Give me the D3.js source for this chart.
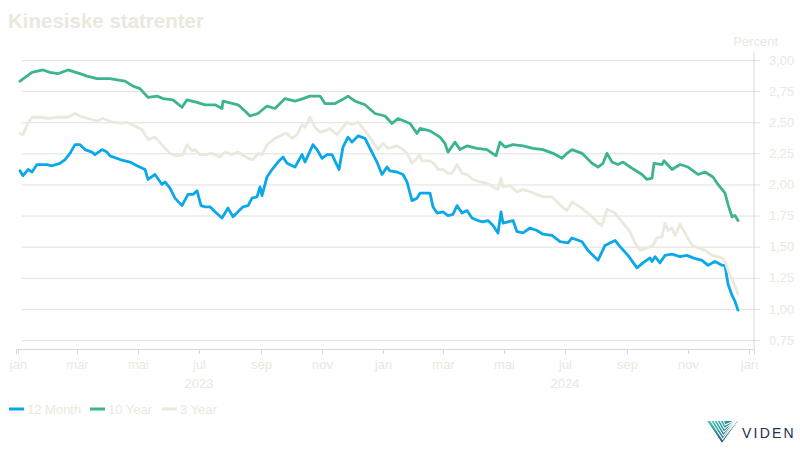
<!DOCTYPE html>
<html>
<head>
<meta charset="utf-8">
<script src="https://cdn.jsdelivr.net/npm/d3@7"></script>
<style>
  body { margin: 0; background: #fff; }
  text { font-family: "Liberation Sans", Arial, sans-serif; }
</style>
</head>
<body>
<div id="main_div"></div>
<script>
var WIDTH = 800;
var HEIGHT = 450;
var TEXT_COLOR = "#ebe8dd";
var GRID_COLOR = "#e0e0e0";

// Series data
var month12 = [
  ["2023-01-03",2.11],["2023-01-06",2.07],["2023-01-11",2.12],["2023-01-15",2.10],["2023-01-20",2.16],
  ["2023-01-30",2.16],["2023-02-04",2.15],["2023-02-12",2.17],["2023-02-17",2.20],["2023-02-22",2.25],
  ["2023-02-27",2.32],["2023-03-04",2.32],["2023-03-09",2.28],["2023-03-16",2.26],["2023-03-19",2.24],
  ["2023-03-26",2.28],["2023-03-31",2.26],["2023-04-03",2.23],["2023-04-13",2.20],["2023-04-23",2.18],
  ["2023-04-30",2.15],["2023-05-08",2.12],["2023-05-11",2.04],["2023-05-18",2.08],["2023-05-25",2.00],
  ["2023-05-28",2.02],["2023-06-02",1.97],["2023-06-07",1.89],["2023-06-14",1.83],["2023-06-20",1.92],
  ["2023-06-25",1.92],["2023-06-29",1.95],["2023-07-03",1.83],["2023-07-07",1.82],["2023-07-12",1.82],
  ["2023-07-17",1.78],["2023-07-24",1.73],["2023-07-30",1.81],["2023-08-04",1.74],["2023-08-09",1.78],
  ["2023-08-14",1.82],["2023-08-19",1.83],["2023-08-23",1.89],["2023-08-28",1.90],["2023-08-31",1.98],
  ["2023-09-02",1.91],["2023-09-07",2.06],["2023-09-12",2.12],["2023-09-18",2.18],["2023-09-23",2.22],
  ["2023-09-27",2.17],["2023-10-05",2.14],["2023-10-12",2.24],["2023-10-15",2.18],["2023-10-23",2.32],
  ["2023-10-27",2.28],["2023-11-01",2.21],["2023-11-06",2.24],["2023-11-11",2.24],["2023-11-18",2.12],
  ["2023-11-22",2.30],["2023-11-27",2.38],["2023-12-01",2.34],["2023-12-07",2.39],["2023-12-14",2.37],
  ["2023-12-19",2.29],["2023-12-26",2.18],["2023-12-31",2.08],["2024-01-05",2.14],["2024-01-08",2.11],
  ["2024-01-15",2.10],["2024-01-21",2.08],["2024-01-25",2.02],["2024-01-30",1.87],["2024-02-04",1.89],
  ["2024-02-07",1.93],["2024-02-17",1.93],["2024-02-20",1.82],["2024-02-24",1.77],["2024-03-01",1.78],
  ["2024-03-06",1.75],["2024-03-11",1.76],["2024-03-15",1.83],["2024-03-20",1.77],["2024-03-25",1.79],
  ["2024-03-30",1.73],["2024-04-05",1.71],["2024-04-10",1.70],["2024-04-15",1.71],["2024-04-20",1.67],
  ["2024-04-25",1.61],["2024-04-28",1.78],["2024-04-30",1.69],["2024-05-05",1.70],["2024-05-10",1.71],
  ["2024-05-14",1.62],["2024-05-20",1.61],["2024-05-27",1.65],["2024-06-03",1.63],["2024-06-09",1.60],
  ["2024-06-18",1.59],["2024-06-26",1.54],["2024-07-04",1.53],["2024-07-08",1.57],["2024-07-18",1.54],
  ["2024-07-24",1.47],["2024-08-03",1.39],["2024-08-10",1.51],["2024-08-20",1.55],["2024-08-25",1.50],
  ["2024-09-02",1.43],["2024-09-11",1.33],["2024-09-17",1.37],["2024-09-24",1.41],["2024-09-26",1.38],
  ["2024-09-29",1.42],["2024-10-04",1.37],["2024-10-09",1.43],["2024-10-16",1.44],["2024-10-24",1.42],
  ["2024-10-31",1.43],["2024-11-06",1.41],["2024-11-15",1.39],["2024-11-21",1.35],["2024-11-28",1.38],
  ["2024-12-05",1.35],["2024-12-08",1.35],["2024-12-11",1.20],["2024-12-15",1.11],["2024-12-18",1.06],
  ["2024-12-21",0.99]
];

var year10 = [
  ["2023-01-03",2.83],["2023-01-15",2.90],["2023-01-26",2.92],["2023-02-02",2.90],["2023-02-10",2.89],
  ["2023-02-20",2.92],["2023-03-04",2.89],["2023-03-11",2.87],["2023-03-21",2.85],["2023-04-03",2.85],
  ["2023-04-10",2.84],["2023-04-18",2.83],["2023-04-26",2.79],["2023-05-03",2.77],["2023-05-11",2.70],
  ["2023-05-20",2.71],["2023-05-26",2.69],["2023-06-05",2.68],["2023-06-14",2.62],["2023-06-19",2.68],
  ["2023-06-29",2.66],["2023-07-07",2.64],["2023-07-17",2.64],["2023-07-24",2.61],["2023-07-25",2.67],
  ["2023-08-09",2.64],["2023-08-16",2.59],["2023-08-21",2.55],["2023-08-29",2.57],["2023-09-07",2.63],
  ["2023-09-15",2.61],["2023-09-25",2.69],["2023-10-05",2.67],["2023-10-13",2.69],["2023-10-20",2.71],
  ["2023-10-30",2.71],["2023-11-04",2.65],["2023-11-14",2.65],["2023-11-21",2.68],["2023-11-27",2.71],
  ["2023-12-04",2.67],["2023-12-14",2.64],["2023-12-24",2.57],["2024-01-03",2.55],["2024-01-10",2.49],
  ["2024-01-16",2.53],["2024-01-28",2.49],["2024-02-04",2.41],["2024-02-07",2.45],["2024-02-17",2.43],
  ["2024-02-27",2.38],["2024-03-03",2.33],["2024-03-06",2.26],["2024-03-13",2.34],["2024-03-18",2.28],
  ["2024-03-25",2.31],["2024-04-04",2.29],["2024-04-14",2.28],["2024-04-23",2.23],["2024-04-27",2.34],
  ["2024-05-02",2.30],["2024-05-10",2.32],["2024-05-20",2.31],["2024-05-30",2.29],["2024-06-09",2.28],
  ["2024-06-19",2.25],["2024-06-28",2.21],["2024-07-03",2.25],["2024-07-08",2.28],["2024-07-18",2.25],
  ["2024-07-28",2.17],["2024-08-03",2.14],["2024-08-08",2.17],["2024-08-12",2.25],["2024-08-17",2.18],
  ["2024-08-23",2.16],["2024-08-28",2.18],["2024-09-06",2.13],["2024-09-16",2.08],["2024-09-21",2.04],
  ["2024-09-26",2.05],["2024-09-28",2.17],["2024-10-06",2.16],["2024-10-08",2.19],["2024-10-16",2.12],
  ["2024-10-24",2.16],["2024-11-01",2.14],["2024-11-11",2.08],["2024-11-18",2.10],["2024-11-26",2.06],
  ["2024-12-01",2.00],["2024-12-08",1.93],["2024-12-11",1.84],["2024-12-15",1.74],["2024-12-18",1.75],
  ["2024-12-21",1.71]
];

var year3 = [
  ["2023-01-03",2.41],["2023-01-06",2.40],["2023-01-10",2.48],["2023-01-15",2.54],["2023-01-23",2.54],
  ["2023-02-02",2.53],["2023-02-09",2.54],["2023-02-20",2.54],["2023-02-27",2.57],["2023-03-04",2.55],
  ["2023-03-12",2.53],["2023-03-21",2.51],["2023-03-27",2.53],["2023-04-06",2.50],["2023-04-15",2.49],
  ["2023-04-20",2.50],["2023-04-28",2.47],["2023-05-05",2.44],["2023-05-11",2.36],["2023-05-18",2.38],
  ["2023-05-26",2.31],["2023-06-02",2.25],["2023-06-09",2.23],["2023-06-15",2.24],["2023-06-19",2.32],
  ["2023-06-24",2.27],["2023-06-27",2.28],["2023-07-02",2.24],["2023-07-07",2.24],["2023-07-14",2.25],
  ["2023-07-22",2.22],["2023-07-27",2.26],["2023-08-03",2.24],["2023-08-09",2.26],["2023-08-19",2.21],
  ["2023-08-24",2.20],["2023-08-29",2.25],["2023-09-02",2.24],["2023-09-07",2.32],["2023-09-15",2.37],
  ["2023-09-22",2.40],["2023-09-27",2.41],["2023-10-02",2.37],["2023-10-07",2.40],["2023-10-12",2.48],
  ["2023-10-15",2.46],["2023-10-20",2.54],["2023-10-25",2.46],["2023-10-30",2.42],["2023-11-04",2.43],
  ["2023-11-09",2.45],["2023-11-16",2.40],["2023-11-21",2.45],["2023-11-26",2.50],["2023-12-01",2.48],
  ["2023-12-07",2.50],["2023-12-12",2.45],["2023-12-17",2.40],["2023-12-22",2.34],["2023-12-27",2.28],
  ["2024-01-01",2.33],["2024-01-06",2.29],["2024-01-15",2.31],["2024-01-21",2.28],["2024-01-26",2.24],
  ["2024-01-30",2.17],["2024-02-04",2.21],["2024-02-06",2.24],["2024-02-09",2.19],["2024-02-17",2.19],
  ["2024-02-22",2.16],["2024-02-25",2.12],["2024-03-01",2.12],["2024-03-06",2.09],["2024-03-10",2.09],
  ["2024-03-15",2.16],["2024-03-20",2.09],["2024-03-25",2.08],["2024-03-31",2.04],["2024-04-07",2.02],
  ["2024-04-14",2.01],["2024-04-20",1.98],["2024-04-25",1.96],["2024-04-28",2.05],["2024-04-30",1.98],
  ["2024-05-07",1.99],["2024-05-14",1.94],["2024-05-20",1.96],["2024-05-27",1.94],["2024-06-03",1.92],
  ["2024-06-09",1.90],["2024-06-18",1.90],["2024-06-23",1.86],["2024-06-28",1.82],["2024-07-03",1.79],
  ["2024-07-08",1.86],["2024-07-14",1.83],["2024-07-21",1.79],["2024-07-28",1.74],["2024-08-03",1.69],
  ["2024-08-07",1.67],["2024-08-12",1.80],["2024-08-20",1.77],["2024-08-27",1.70],["2024-09-04",1.62],
  ["2024-09-09",1.53],["2024-09-14",1.47],["2024-09-21",1.49],["2024-09-27",1.51],["2024-10-01",1.57],
  ["2024-10-06",1.58],["2024-10-09",1.69],["2024-10-12",1.63],["2024-10-16",1.65],["2024-10-19",1.59],
  ["2024-10-24",1.68],["2024-10-29",1.61],["2024-11-05",1.51],["2024-11-11",1.49],["2024-11-18",1.47],
  ["2024-11-25",1.43],["2024-11-30",1.42],["2024-12-05",1.41],["2024-12-08",1.38],["2024-12-11",1.31],
  ["2024-12-16",1.22],["2024-12-21",1.12]
];

var seriesNames = ["12 Month", "10 Year", "3 Year"];
var seriesColors = ["#0aa8e8", "#3cb490", "#ebe8dc"];
var yTicks = [0.75, 1.00, 1.25, 1.50, 1.75, 2.00, 2.25, 2.50, 2.75, 3.00];
var yearLabels = [["2023-07-01", "2023"], ["2024-07-01", "2024"]];
var monthNames = ["jan","feb","mar","apr","mai","jun","jul","aug","sep","okt","nov","des"];

var parseDate = d3.timeParse("%Y-%m-%d");

function drawLogo(svg) {
  // Striped inverted triangle + wordmark
  var defs = svg.append("defs");
  var grad = defs.append("linearGradient")
                 .attr("id", "logo_grad")
                 .attr("gradientUnits", "userSpaceOnUse")
                 .attr("x1", 0).attr("y1", 0).attr("x2", 22).attr("y2", 24);
  grad.append("stop").attr("offset", "0%").attr("stop-color", "#4fd1b0");
  grad.append("stop").attr("offset", "50%").attr("stop-color", "#1f8f9c");
  grad.append("stop").attr("offset", "100%").attr("stop-color", "#22304f");

  defs.append("clipPath").attr("id", "logo_clip")
      .append("polygon").attr("points", "0,0 31,0 15,22");

  var logo = svg.append("g").attr("transform", "translate(707,421)");
  var inner = logo.append("g").attr("clip-path", "url(#logo_clip)");
  inner.append("polygon")
       .attr("points", "0,0 31,0 15,22")
       .attr("fill", "url(#logo_grad)");
  // white chevrons cut into the triangle
  for (var i = 1; i <= 5; i++) {
    inner.append("polyline")
         .attr("points", (i * 3.2) + ",-1 " + (15 + i * 0.6) + "," + (22 - i * 3.6) + " " + (31 - i * 0.4) + ",-1")
         .attr("fill", "none")
         .attr("stroke", "#fff")
         .attr("stroke-width", 1.1);
  }

  svg.append("text")
      .attr("x", 742)
      .attr("y", 438)
      .attr("font-size", 14)
      .attr("letter-spacing", 2.2)
      .attr("fill", "#23304d")
      .text("VIDEN");
}

function initialize() {

  var svg = d3.select("#main_div").append("svg")
              .attr("width", WIDTH)
              .attr("height", HEIGHT);

  // Scales
  var x = d3.scaleTime()
            .domain([parseDate("2022-12-30"), parseDate("2025-01-06")])
            .range([16, 754]);
  var y = d3.scaleLinear()
            .domain([0.75, 3.00])
            .range([340, 60]);

  // Title
  svg.append("text")
      .attr("x", 8)
      .attr("y", 28)
      .attr("font-size", 20.5)
      .attr("font-weight", "bold")
      .attr("fill", TEXT_COLOR)
      .text("Kinesiske statrenter");

  svg.append("text")
      .attr("x", 778)
      .attr("y", 46)
      .attr("text-anchor", "end")
      .attr("font-size", 13)
      .attr("fill", TEXT_COLOR)
      .text("Percent");

  // Grid lines + right axis
  var yAxis = d3.axisRight(y)
                .tickValues(yTicks)
                .tickSize(-738)
                .tickPadding(9)
                .tickFormat(function(d) { return d3.format(".2f")(d).replace(".", ","); });

  var yG = svg.append("g")
              .attr("transform", "translate(760,0)")
              .call(yAxis);
  yG.select(".domain").remove();
  yG.selectAll(".tick line").attr("stroke", GRID_COLOR);
  yG.selectAll(".tick text")
      .attr("fill", TEXT_COLOR)
      .attr("font-size", 13)
      .attr("font-family", "Liberation Sans, Arial, sans-serif");

  svg.append("line")
      .attr("x1", 754).attr("x2", 754)
      .attr("y1", 52).attr("y2", 349)
      .attr("stroke", "#d8d8d8");

  // Bottom axis
  var xAxis = d3.axisBottom(x)
                .ticks(d3.timeMonth.every(2))
                .tickSize(5)
                .tickPadding(6)
                .tickFormat(function(d) { return monthNames[d.getMonth()]; });

  var xG = svg.append("g")
              .attr("transform", "translate(0,349)")
              .call(xAxis);
  xG.select(".domain").attr("stroke", "#d8d8d8");
  xG.selectAll(".tick line").attr("stroke", "#d8d8d8");
  xG.selectAll(".tick text")
      .attr("fill", TEXT_COLOR)
      .attr("font-size", 13)
      .attr("font-family", "Liberation Sans, Arial, sans-serif");

  svg.selectAll(".year-label")
      .data(yearLabels).enter()
    .append("text")
      .attr("class", "year-label")
      .attr("x", function(d) { return x(parseDate(d[0])); })
      .attr("y", 388)
      .attr("text-anchor", "middle")
      .attr("font-size", 13)
      .attr("fill", TEXT_COLOR)
      .text(function(d) { return d[1]; });

  // Lines
  var line = d3.line()
               .x(function(d) { return x(parseDate(d[0])); })
               .y(function(d) { return y(d[1]); });

  var allSeries = [month12, year10, year3];
  svg.selectAll(".series")
      .data(allSeries).enter()
    .append("path")
      .attr("class", "series")
      .attr("d", line)
      .attr("fill", "none")
      .attr("stroke", function(d, i) { return seriesColors[i]; })
      .attr("stroke-width", 2.8)
      .attr("stroke-linejoin", "round")
      .attr("stroke-linecap", "round");

  // Legend
  var legendX = [9, 90, 162];
  var legend = svg.selectAll(".legend")
                  .data(seriesNames).enter()
                .append("g")
                  .attr("class", "legend")
                  .attr("transform", function(d, i) { return "translate(" + legendX[i] + ",409)"; });
  legend.append("rect")
      .attr("x", 0).attr("y", -1.5)
      .attr("width", 15).attr("height", 3)
      .attr("fill", function(d, i) { return seriesColors[i]; });
  legend.append("text")
      .attr("x", 18)
      .attr("y", 5)
      .attr("font-size", 13)
      .attr("fill", TEXT_COLOR)
      .text(function(d) { return d; });

  drawLogo(svg);
}

initialize();
</script>
</body>
</html>
